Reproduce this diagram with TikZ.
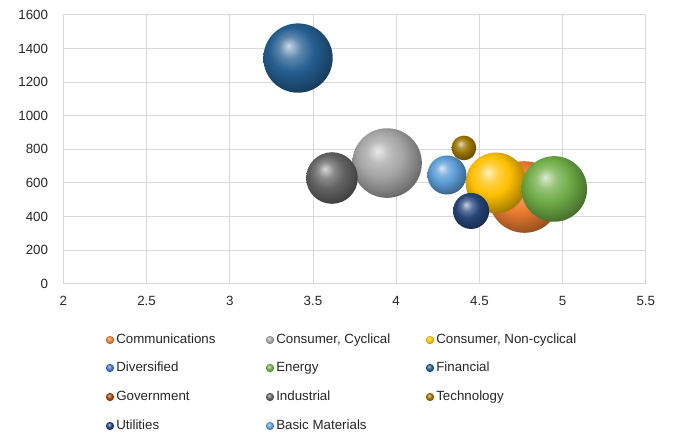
\documentclass[tikz,border=0pt]{standalone}
\usepackage{fontspec}
\setmainfont{Liberation Sans}
\usetikzlibrary{positioning}
\definecolor{comm}{HTML}{ED7D31}
\definecolor{ccyc}{HTML}{A5A5A5}
\definecolor{cnon}{HTML}{FFC000}
\definecolor{divr}{HTML}{4472C4}
\definecolor{ener}{HTML}{70AD47}
\definecolor{fina}{HTML}{255E91}
\definecolor{govt}{HTML}{9E480E}
\definecolor{indu}{HTML}{636363}
\definecolor{tech}{HTML}{997300}
\definecolor{util}{HTML}{264478}
\definecolor{basm}{HTML}{5B9BD5}
\definecolor{gridgray}{HTML}{D9D9D9}
\definecolor{txtgray}{HTML}{262626}
\colorlet{spherecol}{black}
\pgfdeclareradialshading[spherecol]{sphere}{\pgfqpoint{-7bp}{9bp}}{%
    color(0bp)=(spherecol!25!white); color(8bp)=(spherecol!75!white);
    color(16bp)=(spherecol); color(24bp)=(spherecol!78!black);
    color(32bp)=(spherecol!55!black); color(40bp)=(spherecol!45!black);
    color(50bp)=(spherecol!40!black)}

\begin{document}
\begin{tikzpicture}[x=0.75pt, y=0.75pt, font=\fontsize{10}{12}\selectfont, text=txtgray,
    gridline/.style={gridgray, line width=0.75pt},
    ball/.style={shade, shading=sphere, /utils/exec={\colorlet{spherecol}{#1}}},
    bubble/.style={circle, inner sep=0pt, minimum size=#1},
    marker/.style={circle, inner sep=0pt, minimum size=6.2pt},
    entry/.style={right=1.2pt of #1, inner sep=0pt, anchor=west, text height=7.2pt, text depth=1.8pt}]
    \useasboundingbox (0,0) rectangle (693,439);
    \begin{scope}[shift={(-269.4,155.3)}, x=124.8pt, y=0.126pt]
        % Grade
        \foreach \y in {200,400,...,1600} \draw[gridline] (2,\y) -- (5.5,\y);
        \foreach \x in {2.5,3,...,5.5} \draw[gridline] (\x,0) -- (\x,1600);
        \draw[gridline] (2,1600) -- (2,0) -- (5.5,0);
        % Eixos
        \foreach \y in {0,200,...,1600}
            \node[anchor=east, inner sep=0pt, xshift=-11.3pt] (ylab\y) at (2,\y) {\y};
        \foreach \x in {2,2.5,3,3.5,4,4.5,5,5.5}
            \node[inner sep=0pt, yshift=-13pt] (xlab\x) at (\x,0) {\x};
        % Bolhas
        \node[bubble=53.7pt, ball=comm] (comm) at (4.77,516) {};
        \node[bubble=52.2pt, ball=ccyc] (ccyc) at (3.945,718) {};
        \node[bubble=45.5pt, ball=cnon] (cnon) at (4.60,600) {};
        \node[bubble=49.2pt, ball=ener] (ener) at (4.95,564) {};
        \node[bubble=52pt, ball=fina] (fina) at (3.41,1343) {};
        \node[bubble=38.7pt, ball=indu] (indu) at (3.614,629) {};
        \node[bubble=18.5pt, ball=tech] (tech) at (4.407,808) {};
        \node[bubble=27pt, ball=util] (util) at (4.45,433) {};
        \node[bubble=29.3pt, ball=basm] (basm) at (4.305,647) {};
    \end{scope}
    % Legenda
    \foreach \c/\t/\px/\py in {comm/Communications/110/99, ccyc/{Consumer, Cyclical}/270/99,
        cnon/{Consumer, Non-cyclical}/430/99, divr/Diversified/110/71, ener/Energy/270/71,
        fina/Financial/430/71, govt/Government/110/42, indu/Industrial/270/42,
        tech/Technology/430/42, util/Utilities/110/13, basm/Basic Materials/270/13}{
        \node[marker, ball=\c] (m\c) at (\px,\py) {};
        \node[entry=m\c] (l\c) {\t};
    }
\end{tikzpicture}
\end{document}
